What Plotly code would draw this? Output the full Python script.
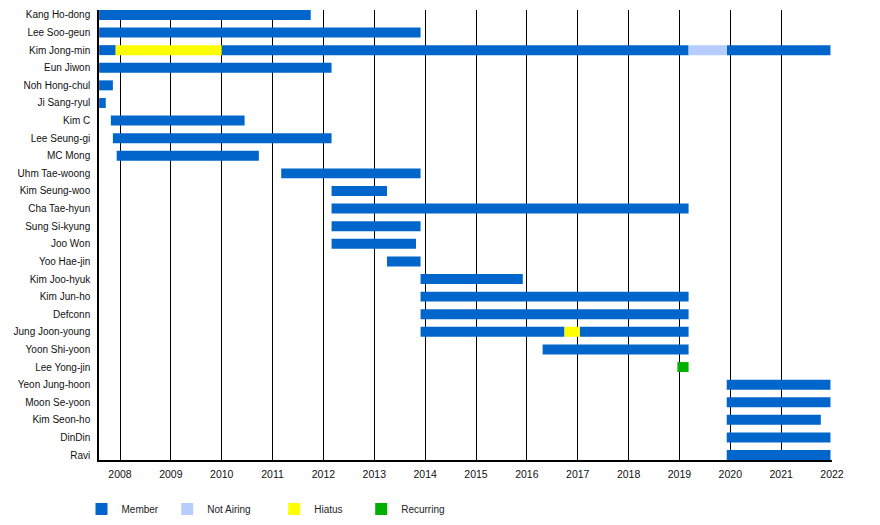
import plotly.graph_objects as go

# Row labels (top to bottom)
members = [
    "Kang Ho-dong", "Lee Soo-geun", "Kim Jong-min", "Eun Jiwon", "Noh Hong-chul",
    "Ji Sang-ryul", "Kim C", "Lee Seung-gi", "MC Mong", "Uhm Tae-woong",
    "Kim Seung-woo", "Cha Tae-hyun", "Sung Si-kyung", "Joo Won", "Yoo Hae-jin",
    "Kim Joo-hyuk", "Kim Jun-ho", "Defconn", "Jung Joon-young", "Yoon Shi-yoon",
    "Lee Yong-jin", "Yeon Jung-hoon", "Moon Se-yoon", "Kim Seon-ho", "DinDin", "Ravi",
]

# Timeline segments (decimal years)
seg_member = [
    "Kang Ho-dong", "Lee Soo-geun",
    "Kim Jong-min", "Kim Jong-min", "Kim Jong-min", "Kim Jong-min", "Kim Jong-min",
    "Eun Jiwon", "Noh Hong-chul", "Ji Sang-ryul", "Kim C", "Lee Seung-gi", "MC Mong",
    "Uhm Tae-woong", "Kim Seung-woo", "Cha Tae-hyun", "Sung Si-kyung", "Joo Won",
    "Yoo Hae-jin", "Kim Joo-hyuk", "Kim Jun-ho", "Defconn",
    "Jung Joon-young", "Jung Joon-young", "Jung Joon-young",
    "Yoon Shi-yoon", "Lee Yong-jin", "Yeon Jung-hoon", "Moon Se-yoon",
    "Kim Seon-ho", "DinDin", "Ravi",
]
seg_start = [
    2007.59, 2007.59,
    2007.59, 2007.915, 2010.0, 2019.18, 2019.93,
    2007.59, 2007.59, 2007.59, 2007.82, 2007.86, 2007.935,
    2011.17, 2012.16, 2012.16, 2012.16, 2012.16,
    2013.25, 2013.91, 2013.91, 2013.91,
    2013.91, 2016.74, 2017.04,
    2016.31, 2018.96, 2019.93, 2019.93,
    2019.93, 2019.93, 2019.93,
]
seg_end = [
    2011.75, 2013.91,
    2007.915, 2010.0, 2019.18, 2019.93, 2021.97,
    2012.16, 2007.86, 2007.72, 2010.45, 2012.16, 2010.73,
    2013.91, 2013.25, 2019.18, 2013.91, 2013.82,
    2013.91, 2015.92, 2019.18, 2019.18,
    2016.74, 2017.04, 2019.18,
    2019.18, 2019.18, 2021.97, 2021.97,
    2021.78, 2021.97, 2021.97,
]
seg_role = [
    "Member", "Member",
    "Member", "Hiatus", "Member", "Not Airing", "Member",
    "Member", "Member", "Member", "Member", "Member", "Member",
    "Member", "Member", "Member", "Member", "Member",
    "Member", "Member", "Member", "Member",
    "Member", "Hiatus", "Member",
    "Member", "Recurring", "Member", "Member",
    "Member", "Member", "Member",
]

roles = ["Member", "Not Airing", "Hiatus", "Recurring"]
role_colors = {
    "Member": "#0066CC",
    "Not Airing": "#B7CCFF",
    "Hiatus": "#FFFF00",
    "Recurring": "#00B000",
}
years = list(range(2008, 2023))

FONT = "Liberation Sans, Arial, sans-serif"

# The page body has an 8px margin, so figure coordinates = screen - 8
OFF = 8
W, H = 880 - 2 * OFF, 525 - 2 * OFF
PL, PR, PT, PB = 99.3 - OFF, 832.3 - OFF, 10.0 - OFF, 460.0 - OFF


def px_x(px):
    return (px - PL) / (PR - PL)


def px_y(py):
    return (PB - py) / (PB - PT)


# screen x of the left edge of each legend swatch in the reference
legend_swatch_px = [97.3, 183.0, 290.0, 377.0]

fig = go.Figure()
for i, role in enumerate(roles):
    idx = [k for k, r in enumerate(seg_role) if r == role]
    legend_id = "legend" if i == 0 else f"legend{i + 1}"
    fig.add_trace(go.Bar(
        orientation="h",
        y=[seg_member[k] for k in idx],
        base=[seg_start[k] for k in idx],
        x=[seg_end[k] - seg_start[k] for k in idx],
        width=0.567,
        marker=dict(color=role_colors[role], line=dict(width=0)),
        name=role,
        legend=legend_id,
        showlegend=True,
        hovertemplate="%{y}: %{base:.2f}–%{x:.2f}<extra>" + role + "</extra>",
    ))

layout_legends = {}
for i, role in enumerate(roles):
    key = "legend" if i == 0 else f"legend{i + 1}"
    layout_legends[key] = dict(
        x=px_x(legend_swatch_px[i] - 2.5 - 13 - OFF),
        y=px_y(509 - OFF),
        xanchor="left",
        yanchor="middle",
        orientation="h",
        bgcolor="rgba(0,0,0,0)",
        font=dict(family=FONT, size=10, color="#222222"),
        itemclick=False,
        itemdoubleclick=False,
        tracegroupgap=0,
    )

fig.update_layout(
    width=W,
    height=H,
    margin=dict(l=PL, r=W - PR, t=PT, b=H - PB, autoexpand=False),
    plot_bgcolor="white",
    paper_bgcolor="white",
    barmode="overlay",
    font=dict(family=FONT, size=10, color="#111111"),
    xaxis=dict(
        range=[2007.587, 2022.0],
        tickvals=years,
        ticktext=[str(y) for y in years],
        showgrid=True,
        gridcolor="#000000",
        gridwidth=1,
        zeroline=False,
        showline=True,
        linecolor="#000000",
        linewidth=1.5,
        ticks="",
        ticklabelstandoff=4,
        tickfont=dict(family=FONT, size=10.5, color="#111111"),
        layer="below traces",
        automargin=False,
        fixedrange=True,
    ),
    yaxis=dict(
        type="category",
        categoryorder="array",
        categoryarray=members,
        range=[25.28, -0.28],
        showgrid=False,
        zeroline=False,
        showline=True,
        linecolor="#000000",
        linewidth=1.5,
        ticks="",
        ticklabelstandoff=5,
        tickfont=dict(family=FONT, size=10, color="#111111"),
        layer="below traces",
        automargin=False,
        fixedrange=True,
    ),
    **layout_legends,
)

fig.write_html("out.html")
